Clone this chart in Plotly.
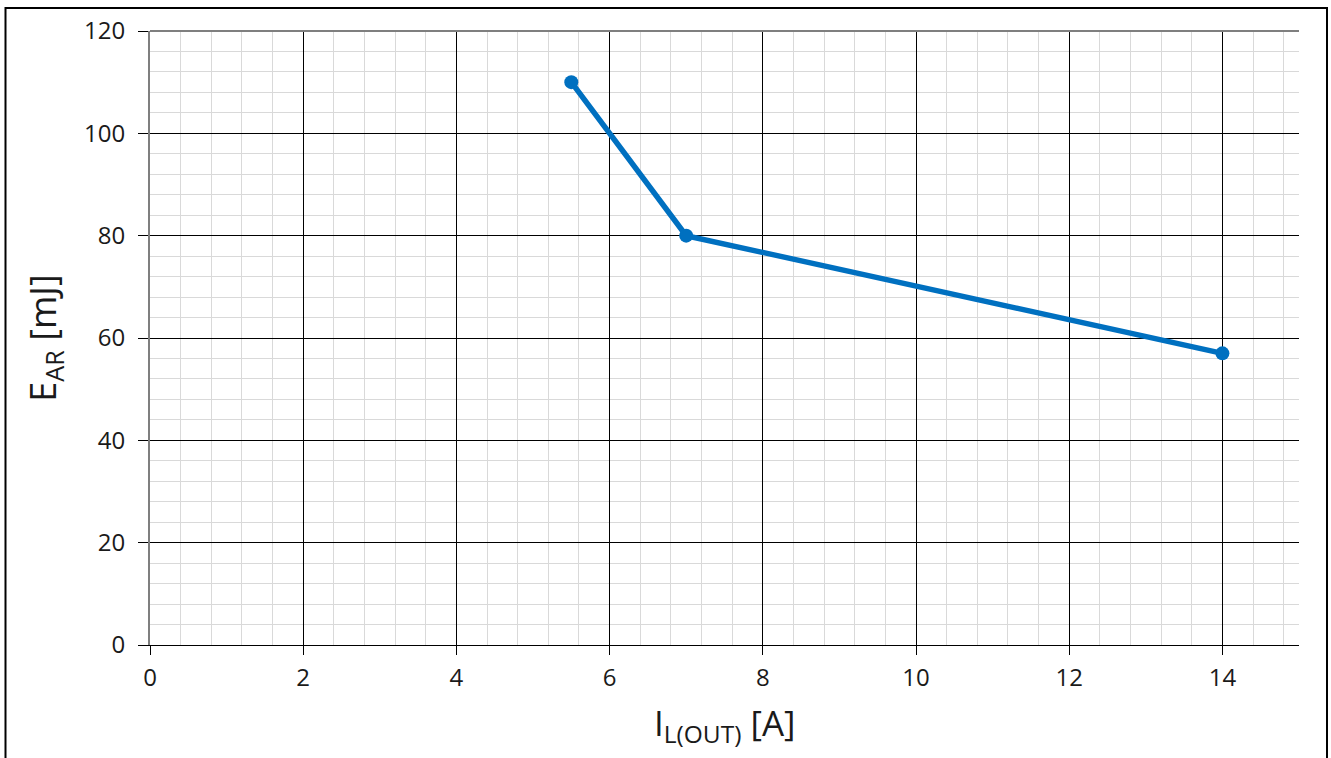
import plotly.graph_objects as go

x_current = [5.5, 7, 14]
y_energy = [110, 80, 57]
x_ticks = [0, 2, 4, 6, 8, 10, 12, 14]
y_ticks = [0, 20, 40, 60, 80, 100, 120]

fig = go.Figure()
fig.add_trace(go.Scatter(
    x=x_current, y=y_energy, mode="lines+markers",
    line=dict(color="#0070C0", width=5.5),
    marker=dict(color="#0070C0", size=14),
    showlegend=False, cliponaxis=False,
))

font_family = "Open Sans"
fig.update_xaxes(
    range=[0, 15], tickvals=x_ticks, ticks="outside", ticklen=9, tickcolor="black",
    showline=True, linecolor="black", linewidth=1,
    showgrid=True, gridcolor="black", gridwidth=1,
    minor=dict(dtick=0.4, tick0=0, showgrid=True, gridcolor="#d9d9d9", gridwidth=1, ticks=""),
    tickfont=dict(family=font_family, size=24, color="#1a1a1a"),
    ticklabelstandoff=2,
    zeroline=False, fixedrange=True,
)
fig.update_yaxes(
    range=[0, 120], tickvals=y_ticks, ticks="outside", ticklen=10, tickcolor="black",
    showline=True, linecolor="#7f7f7f", linewidth=2,
    showgrid=True, gridcolor="black", gridwidth=1,
    minor=dict(dtick=4, tick0=0, showgrid=True, gridcolor="#d9d9d9", gridwidth=1, ticks=""),
    tickfont=dict(family=font_family, size=24, color="#1a1a1a"),
    ticklabelstandoff=8,
    title=dict(text="E<sub>AR</sub> [mJ]", font=dict(family=font_family, size=36, color="#1a1a1a"), standoff=16),
    zeroline=False, fixedrange=True,
)

# x-axis title placed as annotation for precise vertical placement
fig.add_annotation(
    text="I<sub>L(OUT)</sub> [A]", xref="paper", yref="paper",
    x=(725 - 150) / 1149, y=(645 - 697) / 614, xanchor="center", yanchor="top",
    showarrow=False, font=dict(family=font_family, size=35, color="#1a1a1a"),
)

# top edge line (gray) and outer frame
fig.add_shape(type="line", xref="paper", yref="paper", x0=0, x1=1, y0=1, y1=1,
              line=dict(color="#7f7f7f", width=2), layer="above")
fig.add_shape(type="rect", xref="paper", yref="paper",
              x0=(5.5 - 150) / 1149, x1=(1327 - 150) / 1149,
              y0=(645 - 770) / 614, y1=(645 - 8) / 614,
              line=dict(color="black", width=2), fillcolor="rgba(0,0,0,0)", layer="below")

fig.update_layout(
    width=1331, height=758,
    margin=dict(l=150, r=32, t=31, b=113),
    paper_bgcolor="white", plot_bgcolor="white",
)
fig.write_html("out.html")
